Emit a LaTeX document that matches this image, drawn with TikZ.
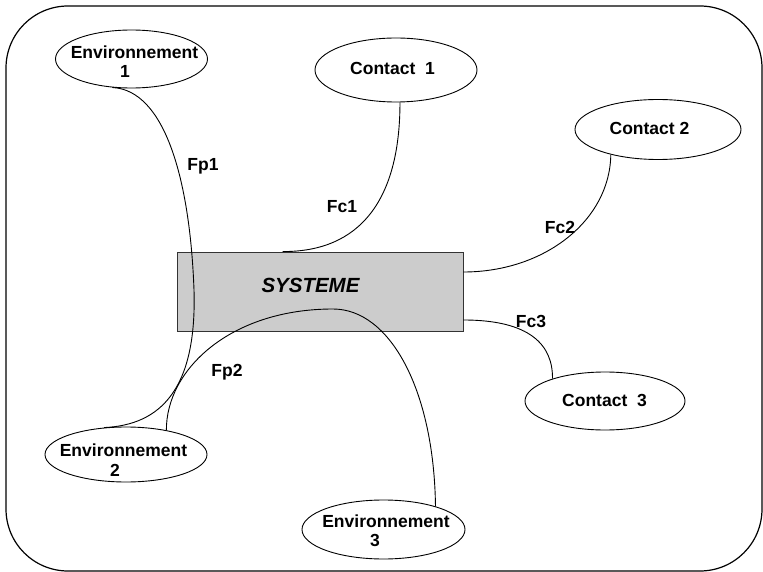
\documentclass[tikz,border=0pt]{standalone}
\usepackage{fontspec}
\setmainfont{Liberation Sans}
\usetikzlibrary{shapes.geometric}
\definecolor{boxgray}{RGB}{204,204,204}
\begin{document}
\begin{tikzpicture}[x=1pt,y=-1pt,
  bubble/.style={draw,ellipse,line width=0.9pt,inner sep=0pt},
  txt/.style={inner sep=0pt,align=center,font=\fontsize{17.5}{19.5}\selectfont\bfseries},
  link/.style={line width=0.9pt},
  tag/.style={font=\fontsize{17.5}{17}\selectfont\bfseries,inner sep=0pt}]
\useasboundingbox (0,0) rectangle (763,572);
% outer frame
\draw[line width=1.2pt,rounded corners=62pt] (6,6) rectangle (762,571);
% central system block
\node[draw=black!80,fill=boxgray,line width=0.9pt,minimum width=286pt,minimum height=79pt,
  inner sep=0pt] (sys) at (320,291.5) {};
\node[inner sep=0pt,font=\fontsize{20.5}{20}\selectfont\bfseries\itshape] (systxt) at (310.5,285.5) {SYSTEME};
% surrounding elements
\node[bubble,minimum width=152pt,minimum height=58pt] (env1) at (131.5,59) {};
\node[bubble,minimum width=162pt,minimum height=64pt] (c1) at (396,70) {};
\node[bubble,minimum width=166pt,minimum height=60pt] (c2) at (658,129.5) {};
\node[bubble,minimum width=160pt,minimum height=58pt] (c3) at (605,401) {};
\node[bubble,minimum width=162pt,minimum height=55pt] (env2) at (126,454.5) {};
\node[bubble,minimum width=163pt,minimum height=59pt] (env3) at (383.5,529.5) {};
\node[txt] (tenv1) at (134.5,61.5) {Environnement\\1\hspace*{19pt}};
\node[txt] (tc1) at (392.5,68.5) {Contact\ \ 1};
\node[txt] (tc2) at (649.5,128.5) {Contact 2};
\node[txt] (tc3) at (604.5,400) {Contact\ \ 3};
\node[txt] (tenv2) at (123.5,460) {Environnement\\2\hspace*{17pt}};
\node[txt] (tenv3) at (386,531) {Environnement\\3\hspace*{22pt}};
% functions
\draw[link] (c1.-83) .. controls (400,200) and (360,252) .. ([xshift=106pt]sys.north west);
\draw[link] (c2.208) .. controls (610,220) and (545,272) .. ([yshift=19.5pt]sys.east);
\draw[link] ([yshift=-28.5pt]sys.east) .. controls (530,320) and (553,345) .. (c3.157);
\draw[link] (env1.236) .. controls (165,90) and (190,180) .. (194,290)
  .. controls (197,390) and (160,425) .. (env2.129);
\draw[link] (env2.31) .. controls (166,370) and (230,309) .. (333,309)
  .. controls (390,309) and (434,390) .. (env3.24);
% labels
\node[tag] (lfp1) at (203,166) {Fp1};
\node[tag] (lfc1) at (342,207) {Fc1};
\node[tag] (lfc2) at (560,227) {Fc2};
\node[tag] (lfc3) at (531,321) {Fc3};
\node[tag] (lfp2) at (227,372) {Fp2};
\end{tikzpicture}
\end{document}
